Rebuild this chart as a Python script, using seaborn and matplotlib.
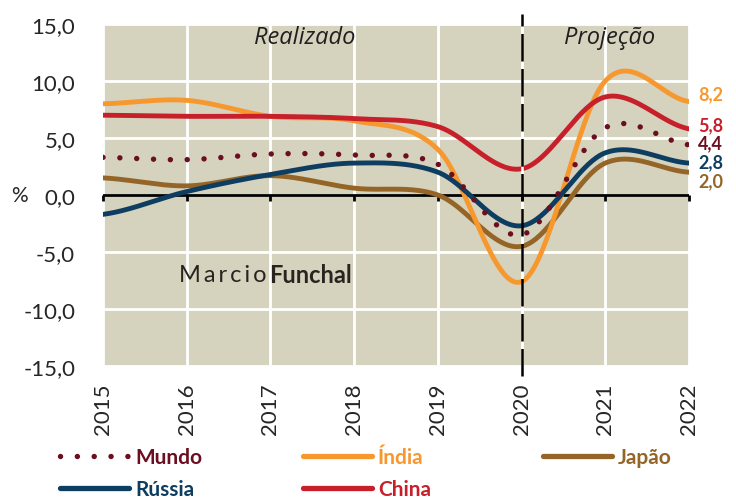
import numpy as np
import pandas as pd
import matplotlib
matplotlib.use("Agg")
import matplotlib.pyplot as plt
import seaborn as sns
from matplotlib.lines import Line2D

# ---------------- data ----------------
years = [2015, 2016, 2017, 2018, 2019, 2020, 2021, 2022]
mundo = [3.3, 3.1, 3.6, 3.5, 2.7, -3.5, 5.9, 4.4]
india = [8.0, 8.3, 6.9, 6.5, 4.0, -7.6, 10.0, 8.2]
japao = [1.5, 0.8, 1.7, 0.6, 0.0, -4.5, 2.8, 2.0]
russia = [-1.7, 0.3, 1.8, 2.8, 2.0, -2.7, 3.7, 2.8]
china = [7.0, 6.9, 6.9, 6.7, 6.0, 2.3, 8.6, 5.8]
yticks = [-15, -10, -5, 0, 5, 10, 15]
end_labels = ["8,2", "5,8", "4,4", "2,8", "2,0"]

C_MUNDO = "#6B0E1F"
C_INDIA = "#F7982F"
C_JAPAO = "#946526"
C_RUSSIA = "#0D3D60"
C_CHINA = "#C8202B"
BG = "#D5D2BE"


def smooth(xv, yv, n=40):
    """Catmull-Rom style smoothing (like a spreadsheet 'smoothed line')."""
    x = np.asarray(xv, float)
    y = np.asarray(yv, float)
    m = np.empty_like(y)
    m[1:-1] = (y[2:] - y[:-2]) / (x[2:] - x[:-2])
    m[0] = (y[1] - y[0]) / (x[1] - x[0]) / 2
    m[-1] = (y[-1] - y[-2]) / (x[-1] - x[-2]) / 2
    xs, ys = [], []
    for i in range(len(x) - 1):
        h = x[i + 1] - x[i]
        t = np.linspace(0, 1, n, endpoint=(i == len(x) - 2))
        h00 = 2 * t**3 - 3 * t**2 + 1
        h10 = t**3 - 2 * t**2 + t
        h01 = -2 * t**3 + 3 * t**2
        h11 = t**3 - t**2
        xs.append(x[i] + t * h)
        ys.append(h00 * y[i] + h10 * h * m[i] + h01 * y[i + 1] + h11 * h * m[i + 1])
    return np.concatenate(xs), np.concatenate(ys)


sns.set_style("white")
plt.rcParams["font.family"] = ["Lato", "DejaVu Sans"]

fig = plt.figure(figsize=(7.36, 5.02), dpi=100)
ax = fig.add_axes([103 / 736, 1 - 367 / 502, 586 / 736, 342 / 502])
ax.set_facecolor(BG)
for s in ax.spines.values():
    s.set_visible(False)

ax.set_xlim(years[0], years[-1])
ax.set_ylim(min(yticks), max(yticks))
ax.set_xticks(years)
ax.set_xticklabels([str(y) for y in years], rotation=90, fontsize=16)
ax.set_yticks(yticks)
ax.set_yticklabels([f"{v:.1f}".replace(".", ",") for v in yticks], fontsize=16)
ax.tick_params(axis="x", length=0, pad=12)
ax.tick_params(axis="y", length=0, pad=20)
ax.grid(True, color="white", lw=2)
ax.set_axisbelow(True)

ax.set_ylabel("%", rotation=0, fontsize=15, ha="center", va="center")
ax.yaxis.set_label_coords(-0.142, 0.5)

# zero line with ticks
ax.axhline(0, color="black", lw=2, zorder=2)
ax.plot(years, [0] * len(years), linestyle="none", marker=3, markersize=4,
        mew=2, color="black", zorder=2, clip_on=False)

series = [
    ("Japão", japao, C_JAPAO),
    ("Índia", india, C_INDIA),
    ("Rússia", russia, C_RUSSIA),
    ("China", china, C_CHINA),
]
for name, vals, col in series:
    xs, ys = smooth(years, vals)
    sns.lineplot(x=xs, y=ys, ax=ax, color=col, lw=3.5, estimator=None,
                 sort=False, zorder=3, solid_capstyle="round")

xs, ys = smooth(years, mundo)
sns.lineplot(x=xs, y=ys, ax=ax, color=C_MUNDO, lw=3.9, estimator=None,
             sort=False, zorder=4, linestyle=(0, (0.01, 3.1)),
             dash_capstyle="round")

# dashed separator
ax.axvline(2020, ymin=-0.03, ymax=1.03, color="black", lw=1.8,
           linestyle=(0, (11, 3)), gapcolor="white", zorder=5, clip_on=False)

ax.text(2017.41, 13.9, "Realizado", style="italic", fontsize=17,
        family=["Open Sans", "DejaVu Sans"],
        ha="center", va="center", color="#231f20")
ax.text(2021.05, 13.9, "Projeção", style="italic", fontsize=17,
        family=["Open Sans", "DejaVu Sans"],
        ha="center", va="center", color="#231f20")

# watermark
ax.text(2015.91, -6.95, "M\u2009a\u2009r\u2009c\u2009i\u2009o", fontsize=17,
        ha="left", va="center", color="#2a2320")
ax.text(2016.98, -6.95, "Funchal", fontsize=17, fontweight="bold",
        ha="left", va="center", color="#2a2320")

# end labels
lab_cols = [C_INDIA, C_CHINA, C_MUNDO, C_RUSSIA, C_JAPAO]
lab_y = [8.85, 6.2, 4.55, 2.9, 1.25]
for txt, col, yv in zip(end_labels, lab_cols, lab_y):
    ax.text(2022.11, yv, txt, fontsize=13, fontweight="bold", color=col,
            ha="left", va="center", clip_on=False)

# legends
def handle(col, dotted=False):
    if dotted:
        return Line2D([], [], color=col, lw=3.9, linestyle=(0, (0.01, 3.1)),
                      dash_capstyle="round")
    return Line2D([], [], color=col, lw=3.8, solid_capstyle="round")

groups = [
    ([("Mundo", C_MUNDO, True), ("Rússia", C_RUSSIA, False)], 60),
    ([("Índia", C_INDIA, False), ("China", C_CHINA, False)], 303),
    ([("Japão", C_JAPAO, False)], 543),
]
for items, xpx in groups:
    hs = [handle(c, d) for _, c, d in items]
    leg = fig.legend(hs, [n for n, _, _ in items], loc="upper left",
                     bbox_to_anchor=(xpx / 736, 1 - 448 / 502), frameon=False,
                     handlelength=3.3, handletextpad=0.3, labelspacing=0.6,
                     borderpad=0, borderaxespad=0,
                     prop={"size": 15, "weight": "bold"})
    for t, (_, c, _) in zip(leg.get_texts(), items):
        t.set_color(c)

fig.savefig("out.png", dpi=100, facecolor="white")
